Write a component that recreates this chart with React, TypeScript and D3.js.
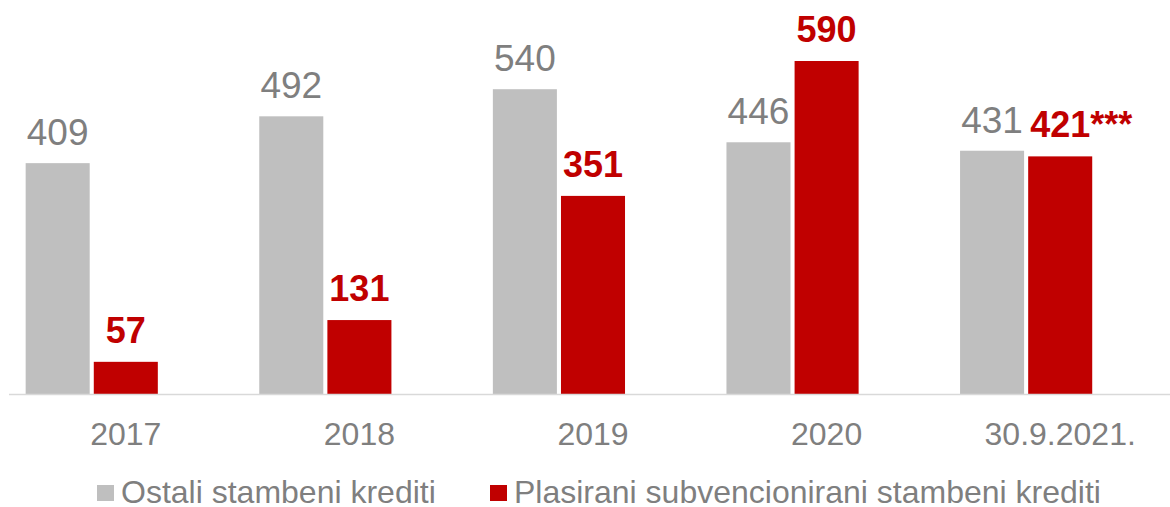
import * as d3 from "d3";
import { useEffect, useRef } from "react";

const categories = ["2017", "2018", "2019", "2020", "30.9.2021."];
const ostali = [409, 492, 540, 446, 431];
const plasirani = [57, 131, 351, 590, 421];
const plasiraniNote = ["", "", "", "", "***"];
const seriesNames = ["Ostali stambeni krediti", "Plasirani subvencionirani stambeni krediti"];

const GRAY = "#bfbfbf";
const RED = "#c00000";
const TEXT_GRAY = "#7f7f7f";
const FONT = "'Liberation Sans', Arial, sans-serif";

const App = () => {
    const svgRef = useRef<SVGSVGElement>(null);

    useEffect(() => {
        const width = 1170;
        const height = 507;
        const svg = d3.select(svgRef.current);
        svg.selectAll("*").remove();
        svg.attr("width", width).attr("height", height);
        svg.style("background", "#FFF");

        // outer band per category, inner band has 3 slots (third one empty, like excel)
        const x0 = d3.scaleBand().domain(categories).range([9, 1177]).paddingInner(0.1426).paddingOuter(0.0713);
        const x1 = d3.scaleBand().domain(["a", "b", "c"]).range([0, x0.bandwidth()]).paddingInner(0.06);
        const y = d3.scaleLinear().domain([0, 590]).range([394, 61]);

        const groups = svg.selectAll(".grp")
            .data(categories)
            .join("g")
            .attr("transform", (d) => `translate(${x0(d)},0)`);

        groups.append("rect")
            .attr("x", x1("a"))
            .attr("width", x1.bandwidth())
            .attr("y", (d, i) => y(ostali[i]))
            .attr("height", (d, i) => y(0) - y(ostali[i]))
            .attr("fill", GRAY);

        groups.append("rect")
            .attr("x", x1("b"))
            .attr("width", x1.bandwidth())
            .attr("y", (d, i) => y(plasirani[i]))
            .attr("height", (d, i) => y(0) - y(plasirani[i]))
            .attr("fill", RED);

        groups.append("text")
            .attr("x", x1("a") + x1.bandwidth() / 2)
            .attr("y", (d, i) => y(ostali[i]) - 18)
            .attr("text-anchor", "middle")
            .style("font-family", FONT)
            .style("font-size", "37px")
            .attr("fill", TEXT_GRAY)
            .text((d, i) => ostali[i]);

        const redLabels = groups.append("text")
            .attr("x", x1("b") + x1.bandwidth() / 2)
            .attr("y", (d, i) => y(plasirani[i]) - 19)
            .attr("text-anchor", "middle")
            .style("font-family", FONT)
            .style("font-size", "36px")
            .style("font-weight", "bold")
            .attr("fill", RED)
            .text((d, i) => plasirani[i]);

        // the *** note sits right after the centered number
        redLabels.each(function (d, i) {
            if (!plasiraniNote[i]) return;
            const node = this as SVGTextElement;
            const w = node.getComputedTextLength();
            d3.select(node.parentNode as SVGGElement).append("text")
                .attr("x", x1("b") + x1.bandwidth() / 2 + w / 2)
                .attr("y", y(plasirani[i]) - 19)
                .style("font-family", FONT)
                .style("font-size", "36px")
                .style("font-weight", "bold")
                .attr("fill", RED)
                .text(plasiraniNote[i]);
        });

        // axis line
        svg.append("line")
            .attr("x1", 9)
            .attr("x2", width)
            .attr("y1", y(0) + 0.5)
            .attr("y2", y(0) + 0.5)
            .attr("stroke", "#d9d9d9")
            .attr("stroke-width", 1.5);

        svg.selectAll(".cat")
            .data(categories)
            .join("text")
            .attr("x", (d) => x0(d) + x0.bandwidth() / 2)
            .attr("y", 445)
            .attr("text-anchor", "middle")
            .style("font-family", FONT)
            .style("font-size", "32px")
            .attr("fill", TEXT_GRAY)
            .text((d) => d);

        // legend
        const legendX = [97, 490];
        const legendColors = [GRAY, RED];
        const legend = svg.selectAll(".leg")
            .data(seriesNames)
            .join("g")
            .attr("transform", (d, i) => `translate(${legendX[i]},0)`);
        legend.append("rect")
            .attr("x", 0)
            .attr("y", 485)
            .attr("width", 17)
            .attr("height", 16)
            .attr("fill", (d, i) => legendColors[i]);
        legend.append("text")
            .attr("x", 24)
            .attr("y", 503)
            .style("font-family", FONT)
            .style("font-size", "32px")
            .attr("fill", TEXT_GRAY)
            .text((d) => d);
    }, []);

    return (
        <div style={{ position: "fixed", left: 0, top: 0 }}>
            <svg ref={svgRef} style={{ display: "block" }} />
        </div>
    );
};

export default App;
